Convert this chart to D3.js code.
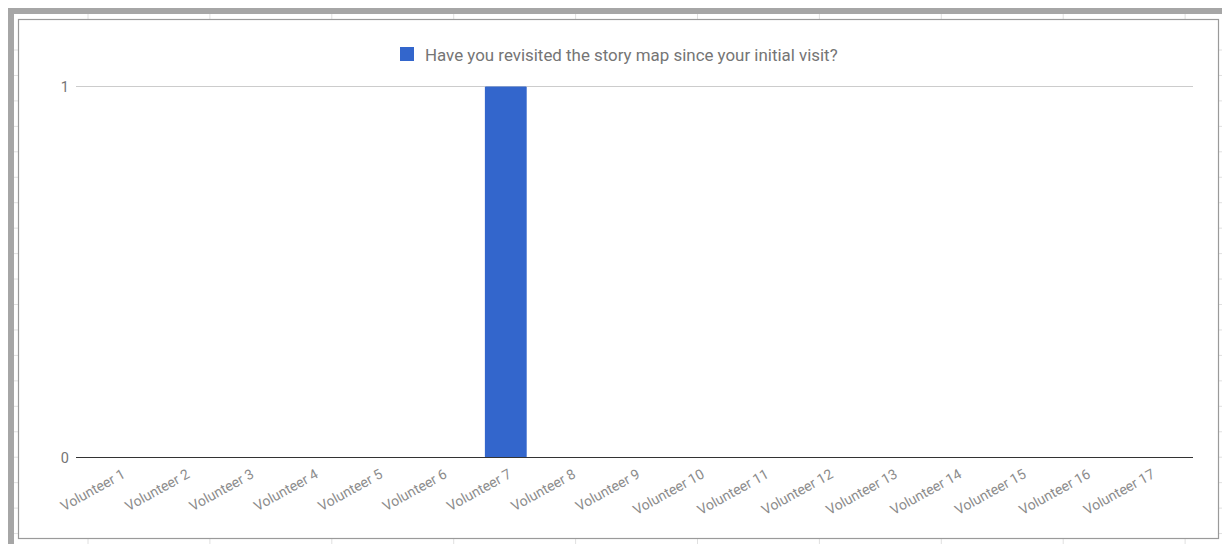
<!DOCTYPE html>
<html lang="en">
<head>
    <meta charset="UTF-8">
    <title>Revisited story map</title>
    <script src="https://d3js.org/d3.v7.min.js"></script>
    <style>
        body { margin: 0; background: #fff; }
        svg { display: block; font-family: Roboto, "Noto Sans", sans-serif; }
    </style>
</head>
<body>
    <div id="chart-container"></div>

    <script>
        // data
        const volunteers = ["Volunteer 1", "Volunteer 2", "Volunteer 3", "Volunteer 4", "Volunteer 5",
            "Volunteer 6", "Volunteer 7", "Volunteer 8", "Volunteer 9", "Volunteer 10", "Volunteer 11",
            "Volunteer 12", "Volunteer 13", "Volunteer 14", "Volunteer 15", "Volunteer 16", "Volunteer 17"];
        const revisited = [0, 0, 0, 0, 0, 0, 1, 0, 0, 0, 0, 0, 0, 0, 0, 0, 0];
        const yTicks = [0, 1];
        const seriesName = "Have you revisited the story map since your initial visit?";

        const W = 1222, H = 544;
        const barColor = "#3366cc";

        const svg = d3.select("#chart-container")
            .append("svg")
            .attr("width", W)
            .attr("height", H);

        // spreadsheet bits behind the chart
        const cols = d3.range(88, W, 121.9);
        const rows = d3.range(50, H, 25.45);
        svg.selectAll(".colline")
            .data(cols)
            .enter()
            .append("line")
            .attr("x1", d => d).attr("x2", d => d)
            .attr("y1", 14).attr("y2", H)
            .style("stroke", "#e0e0e0");
        svg.selectAll(".rowline")
            .data(rows)
            .enter()
            .append("line")
            .attr("x1", 14).attr("x2", W)
            .attr("y1", d => d).attr("y2", d => d)
            .style("stroke", "#e0e0e0");

        // gray frame top/left
        svg.append("rect").attr("x", 8).attr("y", 8).attr("width", W - 8).attr("height", 6).style("fill", "#a6a6a6");
        svg.append("rect").attr("x", 8).attr("y", 8).attr("width", 6).attr("height", H - 8).style("fill", "#a6a6a6");

        // chart box
        svg.append("rect")
            .attr("x", 18.5).attr("y", 19.5)
            .attr("width", 1200).attr("height", 519)
            .style("fill", "#fff")
            .style("stroke", "#9a9a9a")
            .style("stroke-width", 1.2);

        const plotLeft = 76, plotRight = 1193, inset = 11.5;

        const x = d3.scaleBand()
            .domain(volunteers)
            .range([plotLeft + inset, plotRight - inset])
            .paddingInner(0.35)
            .paddingOuter(0.175);

        const y = d3.scaleLinear()
            .domain([0, 1])
            .range([457.5, 86.5]);

        // gridlines
        svg.selectAll(".grid")
            .data(yTicks.filter(d => d !== 0))
            .enter()
            .append("line")
            .attr("x1", plotLeft).attr("x2", plotRight)
            .attr("y1", d => y(d)).attr("y2", d => y(d))
            .style("stroke", "#cccccc");

        svg.selectAll(".ylab")
            .data(yTicks)
            .enter()
            .append("text")
            .attr("x", 69)
            .attr("y", d => y(d))
            .attr("dy", "0.36em")
            .attr("text-anchor", "end")
            .style("font-size", "14.5px")
            .style("fill", "#757575")
            .text(d => d);

        // bars
        svg.selectAll(".bar")
            .data(revisited)
            .enter()
            .append("rect")
            .attr("class", "bar")
            .attr("x", (d, i) => x(volunteers[i]))
            .attr("width", x.bandwidth())
            .attr("y", d => y(d))
            .attr("height", d => y(0) - y(d))
            .attr("rx", 1)
            .style("fill", barColor);

        // baseline
        svg.append("line")
            .attr("x1", plotLeft).attr("x2", plotRight)
            .attr("y1", y(0)).attr("y2", y(0))
            .style("stroke", "#333")
            .style("stroke-width", 1.2);

        // x labels, rotated
        svg.selectAll(".xlab")
            .data(volunteers)
            .enter()
            .append("text")
            .attr("text-anchor", "end")
            .attr("transform", d => `translate(${x(d) + x.bandwidth() / 2 + 6.5},477) rotate(-29)`)
            .style("font-size", "14px")
            .style("fill", "#8c8c8c")
            .text(d => d);

        // legend
        const legend = svg.append("g").attr("transform", "translate(400,47)");
        legend.append("rect")
            .attr("width", 14).attr("height", 14)
            .style("fill", barColor);
        legend.append("text")
            .attr("x", 25).attr("y", 7.5)
            .attr("dy", "0.36em")
            .style("font-size", "16.9px")
            .style("fill", "#757575")
            .text(seriesName);
    </script>
</body>
</html>
